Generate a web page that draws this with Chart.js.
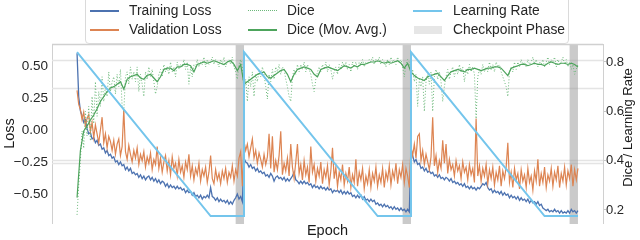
<!DOCTYPE html>
<html>
<head>
<meta charset="utf-8">
<script src="https://cdn.jsdelivr.net/npm/chart.js@4.4.1/dist/chart.umd.min.js"></script>
<style>
  html, body { margin: 0; padding: 0; background: #ffffff; }
  #wrap { position: relative; width: 640px; height: 240px; overflow: hidden; font-family: 'Liberation Sans', Arial, sans-serif; }
  #c { position: absolute; left: 0; top: 0; }
  #legendBox { position: absolute; left: 85px; top: -4px; width: 482px; height: 46px; border: 1px solid #dadada; border-radius: 4px; background: rgba(255,255,255,0.92); }
  .lg-line { position: absolute; width: 29px; height: 1.5px; }
  .lg-dot { position: absolute; width: 29px; height: 0; border-top: 1px dotted #6cb87a; }
  .lg-text { position: absolute; font-size: 13.8px; line-height: 16px; color: #262626; white-space: nowrap; }
  .lg-patch { position: absolute; width: 28px; height: 8px; background: #e6e6e6; }
</style>
</head>
<body>
<div id="wrap">
  <canvas id="c" width="640" height="240"></canvas>
  <div id="legendBox"></div>
  <div class="lg-line" style="left:90px;top:10px;background:#4C72B0;"></div>
  <div class="lg-text" style="left:129px;top:3px;">Training Loss</div>
  <div class="lg-line" style="left:90px;top:29px;background:#DD8452;"></div>
  <div class="lg-text" style="left:129px;top:22px;">Validation Loss</div>
  <div class="lg-dot" style="left:248px;top:10px;"></div>
  <div class="lg-text" style="left:287px;top:3px;">Dice</div>
  <div class="lg-line" style="left:248px;top:29px;background:#4DA45C;"></div>
  <div class="lg-text" style="left:287px;top:22px;">Dice (Mov. Avg.)</div>
  <div class="lg-line" style="left:413px;top:10px;height:2px;background:#74C5EC;"></div>
  <div class="lg-text" style="left:453px;top:3px;">Learning Rate</div>
  <div class="lg-patch" style="left:414px;top:26px;"></div>
  <div class="lg-text" style="left:453px;top:22px;">Checkpoint Phase</div>
</div>
<script>
// ---------------- data ----------------
const epochs = [
  0,1,2,3,4,5,6,7,8,9,10,11,12,13,14,15,16,17,18,19,
  20,21,22,23,24,25,26,27,28,29,30,31,32,33,34,35,36,37,38,39,
  40,41,42,43,44,45,46,47,48,49,50,51,52,53,54,55,56,57,58,59,
  60,61,62,63,64,65,66,67,68,69,70,71,72,73,74,75,76,77,78,79,
  80,81,82,83,84,85,86,87,88,89,90,91,92,93,94,95,96,97,98,99,
  100,101,102,103,104,105,106,107,108,109,110,111,112,113,114,115,116,117,118,119,
  120,121,122,123,124,125,126,127,128,129,130,131,132,133,134,135,136,137,138,139,
  140,141,142,143,144,145,146,147,148,149,150,151,152,153,154,155,156,157,158,159,
  160,161,162,163,164,165,166,167,168,169,170,171,172,173,174,175,176,177,178,179,
  180,181,182,183,184,185,186,187,188,189,190,191,192,193,194,195,196,197,198,199,
  200,201,202,203,204,205,206,207,208,209,210,211,212,213,214,215,216,217,218,219,
  220,221,222,223,224,225,226,227,228,229,230,231,232,233,234,235,236,237,238,239,
  240,241,242,243,244,245,246,247,248,249,250,251,252,253,254,255,256,257,258,259,
  260,261,262,263,264,265,266,267,268,269,270,271,272,273,274,275,276,277,278,279,
  280,281,282,283,284,285,286,287,288,289,290,291,292,293,294,295,296,297,298,299,
  300
];

const trainingLoss = [
  0.60,0.26,0.15,0.11,0.06,0.08,0.01,-0.03,-0.02,-0.07,
  -0.06,-0.10,-0.08,-0.12,-0.11,-0.15,-0.14,-0.18,-0.16,-0.20,
  -0.19,-0.22,-0.21,-0.25,-0.24,-0.27,-0.25,-0.28,-0.27,-0.31,
  -0.29,-0.32,-0.30,-0.34,-0.33,-0.35,-0.34,-0.37,-0.35,-0.38,
  -0.36,-0.39,-0.37,-0.36,-0.39,-0.37,-0.40,-0.38,-0.41,-0.39,
  -0.42,-0.40,-0.41,-0.44,-0.42,-0.45,-0.43,-0.45,-0.44,-0.46,
  -0.44,-0.46,-0.45,-0.47,-0.46,-0.49,-0.47,-0.49,-0.48,-0.51,
  -0.49,-0.52,-0.51,-0.53,-0.51,-0.54,-0.52,-0.53,-0.51,-0.53,
  -0.45,-0.52,-0.53,-0.55,-0.53,-0.56,-0.54,-0.56,-0.55,-0.57,
  -0.55,-0.58,-0.56,-0.58,-0.55,-0.53,-0.50,-0.54,-0.52,-0.56,
  -0.22,-0.25,-0.26,-0.29,-0.27,-0.30,-0.29,-0.32,-0.30,-0.33,
  -0.32,-0.34,-0.33,-0.36,-0.35,-0.37,-0.34,-0.36,-0.40,-0.37,
  -0.36,-0.38,-0.37,-0.39,-0.37,-0.40,-0.38,-0.40,-0.38,-0.36,
  -0.33,-0.39,-0.40,-0.42,-0.40,-0.42,-0.40,-0.42,-0.41,-0.43,
  -0.42,-0.45,-0.43,-0.45,-0.44,-0.46,-0.44,-0.46,-0.45,-0.47,
  -0.45,-0.47,-0.46,-0.49,-0.47,-0.48,-0.47,-0.49,-0.47,-0.50,
  -0.48,-0.50,-0.48,-0.50,-0.49,-0.52,-0.51,-0.53,-0.51,-0.53,
  -0.51,-0.54,-0.52,-0.55,-0.54,-0.56,-0.54,-0.56,-0.55,-0.58,
  -0.57,-0.59,-0.58,-0.60,-0.58,-0.60,-0.59,-0.61,-0.60,-0.62,
  -0.60,-0.62,-0.61,-0.63,-0.61,-0.63,-0.62,-0.64,-0.62,-0.64,
  -0.15,-0.20,-0.25,-0.23,-0.27,-0.26,-0.30,-0.29,-0.32,-0.30,
  -0.33,-0.32,-0.34,-0.33,-0.36,-0.35,-0.37,-0.35,-0.38,-0.37,
  -0.39,-0.37,-0.38,-0.40,-0.38,-0.41,-0.40,-0.42,-0.41,-0.43,
  -0.42,-0.44,-0.42,-0.45,-0.44,-0.46,-0.44,-0.46,-0.45,-0.47,
  -0.45,-0.46,-0.44,-0.42,-0.43,-0.41,-0.45,-0.47,-0.46,-0.49,
  -0.47,-0.49,-0.48,-0.50,-0.48,-0.51,-0.49,-0.51,-0.50,-0.53,
  -0.51,-0.53,-0.52,-0.54,-0.52,-0.55,-0.53,-0.55,-0.54,-0.56,
  -0.54,-0.57,-0.55,-0.57,-0.56,-0.58,-0.56,-0.59,-0.58,-0.61,
  -0.62,-0.63,-0.62,-0.64,-0.63,-0.64,-0.62,-0.64,-0.63,-0.65,
  -0.63,-0.65,-0.64,-0.65,-0.63,-0.65,-0.62,-0.64,-0.63,-0.65,
  -0.63
];

const validationLoss = [
  0.31,0.20,0.16,0.08,0.14,0.03,0.09,0.12,-0.01,0.06,
  -0.06,0.04,-0.03,-0.10,0.00,0.10,-0.10,-0.03,-0.14,-0.05,
  -0.09,-0.16,-0.08,-0.19,-0.11,-0.07,-0.20,-0.13,0.16,-0.17,
  -0.23,-0.12,-0.19,-0.25,-0.16,-0.22,-0.14,-0.27,-0.19,-0.24,
  -0.17,-0.29,-0.21,-0.26,-0.18,-0.31,-0.23,-0.27,-0.13,-0.30,
  -0.22,-0.33,-0.25,-0.20,-0.32,-0.24,-0.35,-0.21,-0.30,-0.26,
  -0.36,-0.23,-0.33,-0.28,-0.37,-0.25,-0.31,-0.19,-0.36,-0.28,
  -0.39,-0.30,-0.35,-0.26,-0.40,-0.31,-0.36,-0.29,-0.41,-0.33,
  -0.20,-0.38,-0.42,-0.31,-0.39,-0.34,-0.42,-0.32,-0.38,-0.30,
  -0.41,-0.33,-0.37,-0.28,-0.40,-0.31,-0.36,-0.22,-0.17,-0.44,
  -0.09,-0.16,-0.11,-0.21,-0.14,-0.07,-0.22,-0.16,-0.26,-0.18,
  -0.23,-0.29,-0.19,-0.27,-0.21,-0.03,-0.30,-0.05,-0.33,-0.24,
  -0.31,-0.20,-0.01,-0.35,-0.26,-0.32,-0.22,-0.36,-0.11,-0.29,
  -0.38,-0.25,-0.11,-0.34,-0.27,-0.39,-0.24,-0.35,-0.29,-0.41,
  -0.13,-0.33,-0.27,-0.40,-0.30,-0.36,-0.25,-0.42,-0.31,-0.37,
  -0.28,-0.43,-0.32,-0.14,-0.38,-0.29,-0.44,-0.33,-0.39,-0.27,
  -0.43,-0.34,-0.40,-0.29,-0.45,-0.35,-0.41,-0.23,-0.44,-0.33,
  -0.39,-0.30,-0.46,-0.36,-0.42,-0.31,-0.45,-0.34,-0.40,-0.29,
  -0.44,-0.35,-0.41,-0.30,-0.45,-0.33,-0.39,-0.28,-0.43,-0.32,
  -0.38,-0.26,-0.42,-0.31,-0.37,-0.27,-0.41,-0.30,-0.36,-0.45,
  -0.13,-0.20,-0.11,-0.22,-0.05,-0.03,-0.24,-0.16,-0.27,-0.19,
  -0.25,-0.31,-0.21,0.10,-0.28,-0.20,-0.33,-0.24,-0.30,-0.08,
  -0.26,-0.11,-0.34,-0.23,-0.31,-0.27,-0.36,-0.24,-0.32,-0.28,
  -0.38,-0.25,-0.33,-0.29,-0.39,-0.27,-0.35,-0.30,-0.41,0.09,
  -0.36,-0.28,-0.40,-0.30,-0.36,-0.27,-0.42,-0.31,-0.38,-0.29,
  -0.43,-0.33,-0.39,-0.28,-0.44,-0.32,-0.38,-0.29,-0.10,-0.41,
  -0.33,-0.45,-0.30,-0.39,-0.34,-0.46,-0.31,-0.40,-0.35,-0.45,
  -0.30,-0.41,-0.36,-0.47,-0.32,-0.40,-0.23,-0.44,-0.34,-0.41,
  -0.29,-0.45,-0.35,-0.40,-0.30,-0.44,-0.33,-0.39,-0.28,-0.45,
  -0.34,-0.40,-0.29,-0.43,-0.32,-0.38,-0.27,-0.44,-0.31,-0.39,
  -0.30
];

const dice = [
  0.18,0.30,0.40,0.52,0.45,0.60,0.50,0.62,0.48,0.66,
  0.55,0.72,0.58,0.68,0.62,0.74,0.64,0.70,0.66,0.76,
  0.68,0.72,0.74,0.67,0.75,0.70,0.77,0.62,0.60,0.74,
  0.76,0.71,0.78,0.73,0.76,0.72,0.78,0.68,0.75,0.71,
  0.66,0.76,0.73,0.78,0.74,0.77,0.72,0.67,0.70,0.75,
  0.77,0.74,0.79,0.76,0.78,0.75,0.80,0.76,0.78,0.74,
  0.80,0.77,0.79,0.78,0.81,0.77,0.80,0.71,0.78,0.74,
  0.79,0.78,0.81,0.78,0.80,0.79,0.82,0.78,0.81,0.79,
  0.80,0.82,0.79,0.81,0.80,0.78,0.81,0.79,0.82,0.78,
  0.80,0.81,0.79,0.82,0.78,0.76,0.73,0.79,0.81,0.78,
  0.68,0.73,0.64,0.74,0.70,0.76,0.66,0.75,0.72,0.77,
  0.74,0.78,0.75,0.70,0.65,0.75,0.72,0.77,0.73,0.78,
  0.76,0.79,0.75,0.78,0.77,0.73,0.70,0.66,0.64,0.74,
  0.77,0.75,0.79,0.76,0.79,0.77,0.80,0.76,0.79,0.77,
  0.75,0.71,0.68,0.73,0.76,0.78,0.76,0.79,0.77,0.80,
  0.76,0.79,0.77,0.73,0.76,0.78,0.75,0.79,0.77,0.80,
  0.78,0.80,0.77,0.79,0.76,0.80,0.78,0.80,0.77,0.80,
  0.79,0.81,0.78,0.80,0.79,0.81,0.80,0.82,0.79,0.81,
  0.80,0.82,0.79,0.81,0.80,0.78,0.81,0.79,0.82,0.80,
  0.81,0.79,0.82,0.80,0.81,0.78,0.74,0.79,0.81,0.80,
  0.74,0.77,0.72,0.75,0.62,0.73,0.70,0.74,0.60,0.72,
  0.75,0.71,0.76,0.60,0.74,0.77,0.73,0.76,0.72,0.64,
  0.70,0.74,0.77,0.73,0.76,0.78,0.74,0.77,0.75,0.79,
  0.76,0.78,0.72,0.77,0.75,0.79,0.76,0.78,0.75,0.57,
  0.74,0.77,0.75,0.79,0.76,0.78,0.76,0.80,0.77,0.79,
  0.76,0.80,0.78,0.79,0.76,0.74,0.72,0.70,0.66,0.76,
  0.78,0.76,0.80,0.77,0.80,0.78,0.81,0.79,0.80,0.78,
  0.81,0.79,0.80,0.82,0.79,0.81,0.78,0.80,0.79,0.81,
  0.78,0.80,0.82,0.79,0.81,0.80,0.82,0.78,0.81,0.79,
  0.80,0.82,0.79,0.81,0.78,0.80,0.77,0.79,0.75,0.77,
  0.79
];

const maEpochs = [
  0,2,4,6,8,10,12,14,16,18,20,22,24,26,28,30,32,34,36,38,
  40,42,44,46,48,50,52,54,56,58,60,62,64,66,68,70,72,74,76,78,
  80,82,84,86,88,90,92,94,96,98,100,102,104,106,108,110,112,114,116,118,
  120,122,124,126,128,130,132,134,136,138,140,142,144,146,148,150,152,154,156,158,
  160,162,164,166,168,170,172,174,176,178,180,182,184,186,188,190,192,194,196,198,
  200,202,204,206,208,210,212,214,216,218,220,222,224,226,228,230,232,234,236,238,
  240,242,244,246,248,250,252,254,256,258,260,262,264,266,268,270,272,274,276,278,
  280,282,284,286,288,290,292,294,296,298,300
];

const diceMovAvg = [
  0.25,0.44,0.52,0.54,0.565,0.585,0.61,0.64,0.66,0.68,
  0.695,0.70,0.71,0.72,0.69,0.73,0.74,0.745,0.75,0.735,
  0.73,0.745,0.75,0.735,0.72,0.74,0.77,0.775,0.775,0.765,
  0.78,0.78,0.79,0.79,0.785,0.76,0.79,0.795,0.80,0.795,
  0.80,0.805,0.80,0.795,0.79,0.80,0.805,0.79,0.765,0.79,
  0.71,0.72,0.73,0.74,0.75,0.755,0.76,0.74,0.735,0.745,
  0.755,0.765,0.77,0.75,0.72,0.75,0.77,0.775,0.78,0.775,
  0.77,0.75,0.74,0.77,0.775,0.78,0.775,0.77,0.765,0.775,
  0.785,0.78,0.775,0.785,0.78,0.79,0.79,0.795,0.80,0.80,
  0.805,0.80,0.795,0.80,0.795,0.80,0.805,0.795,0.775,0.795,
  0.76,0.745,0.735,0.73,0.725,0.74,0.745,0.75,0.755,0.74,
  0.725,0.745,0.76,0.765,0.77,0.765,0.76,0.77,0.77,0.775,
  0.77,0.765,0.77,0.775,0.775,0.78,0.78,0.775,0.76,0.745,
  0.775,0.78,0.785,0.79,0.79,0.785,0.79,0.795,0.79,0.79,
  0.785,0.795,0.80,0.795,0.79,0.795,0.795,0.79,0.795,0.79,0.78
];

const lrEpochs = [0, 80, 100, 100, 180, 200, 200, 280, 300];
const learningRate = [0.84, 0.175, 0.175, 0.84, 0.175, 0.175, 0.84, 0.175, 0.175];

const checkpointPhases = [[95, 100], [195, 200], [295, 300]];

const lossTicks = [0.5, 0.25, 0, -0.25, -0.5];
const diceTicks = [0.2, 0.4, 0.6, 0.8];
const rightAxisTitle = 'Dice / Learning Rate';

// ---------------- chart ----------------
const FONT = "'Liberation Sans', Arial, sans-serif";
Chart.defaults.font.family = FONT;
Chart.defaults.color = '#262626';

const pts = (xs, ys) => ys.map((v, i) => ({ x: xs[i], y: v }));

const bgPlugin = {
  id: 'bgDecor',
  beforeDatasetsDraw(chart) {
    const { ctx, chartArea: { top, bottom, left, right }, scales: { x, y2 } } = chart;
    ctx.save();
    ctx.strokeStyle = '#e4e4e4';
    ctx.lineWidth = 1.5;
    for (const v of [0.81, 0.695, 0.403, 0.391]) {
      const py = Math.round(y2.getPixelForValue(v)) + 0.5;
      ctx.beginPath(); ctx.moveTo(left, py); ctx.lineTo(right, py); ctx.stroke();
    }
    ctx.fillStyle = 'rgba(150,150,150,0.5)';
    for (const [a, b] of checkpointPhases) {
      const x0 = x.getPixelForValue(a), x1 = x.getPixelForValue(b);
      ctx.fillRect(x0, top, x1 - x0, bottom - top + 1);
    }
    ctx.strokeStyle = '#d0d0d0';
    ctx.lineWidth = 1.5;
    ctx.beginPath(); ctx.moveTo(left, top + 0.5); ctx.lineTo(right, top + 0.5); ctx.stroke();
    ctx.restore();
  },
  afterDraw(chart) {
    // right axis title, reading bottom-to-top
    const { ctx, chartArea: { top, bottom } } = chart;
    ctx.save();
    ctx.translate(628, (top + bottom) / 2 - 6);
    ctx.rotate(-Math.PI / 2);
    ctx.font = "13px " + FONT;
    ctx.fillStyle = '#1a1a1a';
    ctx.textAlign = 'center';
    ctx.textBaseline = 'middle';
    ctx.fillText(rightAxisTitle, 0, 0);
    ctx.restore();
  }
};

new Chart(document.getElementById('c'), {
  type: 'line',
  data: {
    datasets: [
      { label: 'Training Loss', data: pts(epochs, trainingLoss), yAxisID: 'y',
        borderColor: '#4C72B0', borderWidth: 1.3, order: 5 },
      { label: 'Validation Loss', data: pts(epochs, validationLoss), yAxisID: 'y',
        borderColor: '#DD8452', borderWidth: 1.2, order: 4 },
      { label: 'Dice', data: pts(epochs, dice), yAxisID: 'y2',
        borderColor: '#6cb87a', borderWidth: 1, borderDash: [1, 2], order: 3 },
      { label: 'Dice (Mov. Avg.)', data: pts(maEpochs, diceMovAvg), yAxisID: 'y2',
        borderColor: '#4DA45C', borderWidth: 1.2, order: 2 },
      { label: 'Learning Rate', data: pts(lrEpochs, learningRate), yAxisID: 'y2',
        borderColor: '#74C5EC', borderWidth: 2, order: 1 }
    ]
  },
  options: {
    responsive: false,
    animation: false,
    events: [],
    layout: { padding: { top: 44, left: 0, right: 0, bottom: 0 } },
    elements: { point: { radius: 0 }, line: { tension: 0, fill: false } },
    plugins: { legend: { display: false }, tooltip: { enabled: false } },
    scales: {
      x: {
        type: 'linear', min: -15, max: 315,
        grid: { display: false }, border: { display: false },
        ticks: { display: false },
        title: { display: true, text: 'Epoch', font: { size: 14.5 }, padding: { top: 0, bottom: 0 }, color: '#1a1a1a' },
        afterFit(s) { s.height = 17; }
      },
      y: {
        position: 'left', min: -0.727, max: 0.672,
        grid: { display: false, drawTicks: false },
        border: { display: true, color: '#d0d0d0', width: 1 },
        afterBuildTicks(s) { s.ticks = lossTicks.map(v => ({ value: v })); },
        ticks: { font: { size: 13.5 }, padding: 4, color: '#262626',
          callback: v => v.toFixed(2).replace('-', '\u2212') },
        title: { display: true, text: 'Loss', font: { size: 14.5 }, padding: { top: 1, bottom: 0 }, color: '#1a1a1a' },
        afterFit(s) { s.width = 52; }
      },
      y2: {
        position: 'right', min: 0.147, max: 0.873,
        grid: { display: true, drawOnChartArea: false, drawTicks: true, tickLength: 3, color: '#c8c8c8' },
        border: { display: true, color: '#d0d0d0', width: 1 },
        afterBuildTicks(s) { s.ticks = diceTicks.map(v => ({ value: v })); },
        ticks: { font: { size: 13 }, padding: 0, color: '#262626',
          callback: v => v.toFixed(1) },
        title: { display: false },
        afterFit(s) { s.width = 37; }
      }
    }
  },
  plugins: [bgPlugin]
});
</script>
</body>
</html>
